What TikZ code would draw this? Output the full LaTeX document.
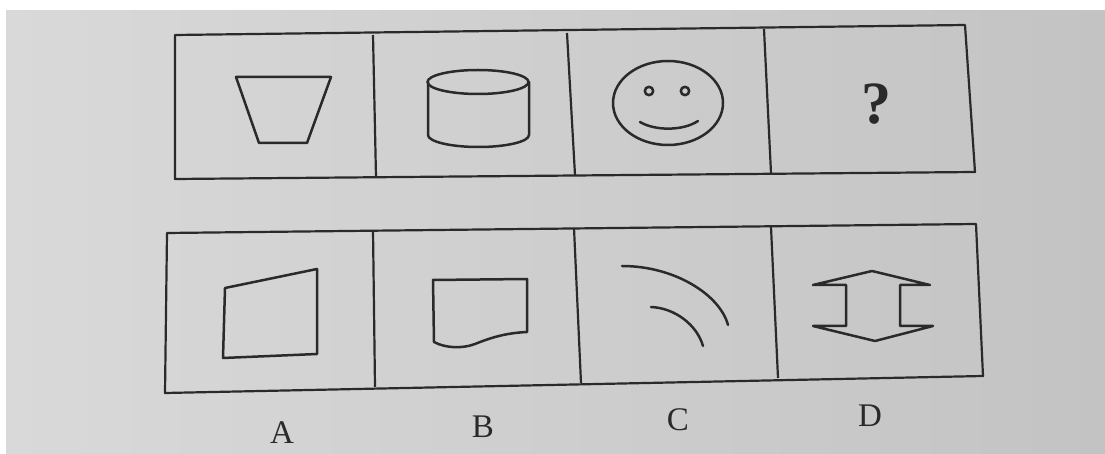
\documentclass[tikz,border=0pt]{standalone}
\usepackage{fontspec}
\setmainfont{Liberation Serif}
\definecolor{ink}{HTML}{2A2A2A}
\definecolor{paperL}{HTML}{D9D9D9}
\definecolor{paperR}{HTML}{C3C3C3}
\tikzset{
  frame/.style={draw=ink, line width=1.1pt, line join=round},
  fig/.style={draw=ink, line width=1.25pt, line join=round, line cap=round},
  lab/.style={text=ink, font=\fontsize{16.5}{18}\selectfont, inner sep=0pt},
}
\begin{document}
\begin{tikzpicture}[x=0.5pt, y=-0.5pt]
\useasboundingbox (0,0) rectangle (1105,454);
\fill[white] (0,0) rectangle (1105,454);
\shade[left color=paperL, right color=paperR] (6,11) rectangle (1105,454);

% top row frame
\draw[frame] (175,35) -- (965,25) -- (975,172) -- (175,179) -- cycle;
\draw[frame] (373,35) -- (376,177);
\draw[frame] (567,33) -- (575,175);
\draw[frame] (764,29) -- (771,173);

% bottom row frame
\draw[frame] (167,233) -- (976,224) -- (983,376) -- (165,393) -- cycle;
\draw[frame] (373,230) -- (375,387);
\draw[frame] (574,228) -- (581,383);
\draw[frame] (771,227) -- (778,378);

% trapezoid
\draw[fig] (236,77) -- (331,77) -- (307,143) -- (259,143) -- cycle;

% cylinder
\draw[fig] (478,82) circle[x radius=50.5, y radius=12];
\draw[fig] (428,82) -- (428,135) arc[start angle=180, end angle=0, x radius=50.5, y radius=12] -- (529,82);

% smiley
\draw[fig] (668,103) circle[x radius=55, y radius=42];
\draw[fig] (649,91) circle[radius=4.2];
\draw[fig] (685,91) circle[radius=4.2];
\draw[fig] (640,122) .. controls (655,131) and (683,131) .. (698,121);

% question mark
\node[text=ink, font=\bfseries\fontsize{30}{32}\selectfont, inner sep=0pt] (q) at (876,104) {?};

% option A
\draw[fig] (225,288) -- (317,269) -- (317,354) -- (223,358) -- cycle;

% option B
\draw[fig] (433,280) -- (527,279) -- (527,332) .. controls (505,333) and (490,338) .. (475,344) .. controls (462,349) and (445,348) .. (434,342) -- cycle;

% option C
\draw[fig] (622,266) .. controls (675,266) and (720,295) .. (728,325);
\draw[fig] (651,307) .. controls (675,308) and (697,325) .. (703,346);

% option D
\draw[fig] (813,285) -- (846,285) -- (846,326) -- (813,326) -- (875,341) -- (933,326) -- (900,326) -- (900,285) -- (930,285) -- (872,271) -- cycle;

% labels
\node[lab] (la) at (282,433) {A};
\node[lab] (lb) at (483,427) {B};
\node[lab] (lc) at (678,420) {C};
\node[lab] (ld) at (870,416) {D};
\end{tikzpicture}
\end{document}
